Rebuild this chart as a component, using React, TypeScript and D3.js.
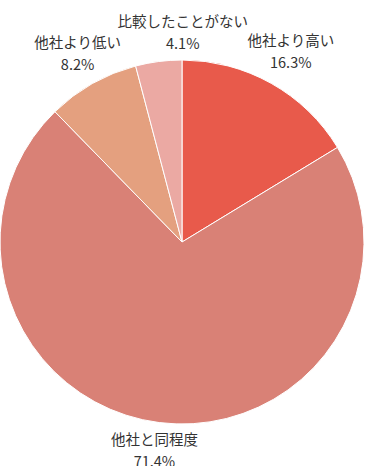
import React from "react";
import * as d3 from "d3";

const categories = ["他社より高い", "他社と同程度", "他社より低い", "比較したことがない"];
const values = [16.3, 71.4, 8.2, 4.1];
const colors = ["#E85A4B", "#D98176", "#E4A07F", "#EBA9A3"];
const labelShift: [number, number][] = [[1, 0], [0, -11], [4, 1], [29, 7]];

export default function App() {
  const W = 365, H = 466;
  const cx = 182, cy = 242, r = 182, lr = 220;
  const pie = d3.pie<number>().sort(null).value((d) => d)(values);
  const arc = d3.arc<d3.PieArcDatum<number>>().innerRadius(0).outerRadius(r);
  const labelArc = d3.arc<d3.PieArcDatum<number>>().innerRadius(lr).outerRadius(lr);
  return (
    <svg width={W} height={H} style={{ position: "absolute", left: 0, top: 0 }}
      fontFamily="'Noto Sans CJK JP', 'Noto Sans', sans-serif">
      <g transform={`translate(${cx},${cy})`}>
        {pie.map((p, i) => (
          <path key={i} d={arc(p) || ""} fill={colors[i]} stroke="#fff" strokeWidth={1} />
        ))}
        {pie.map((p, i) => {
          const [x, y] = labelArc.centroid(p);
          const lx = x + labelShift[i][0], ly = y + labelShift[i][1];
          return (
            <text key={"t" + i} x={lx} y={ly} textAnchor="middle" fontSize={14.5} fill="#333">
              <tspan x={lx} dy={-4}>{categories[i]}</tspan>
              <tspan x={lx} dy={22}>{values[i].toFixed(1)}%</tspan>
            </text>
          );
        })}
      </g>
    </svg>
  );
}
